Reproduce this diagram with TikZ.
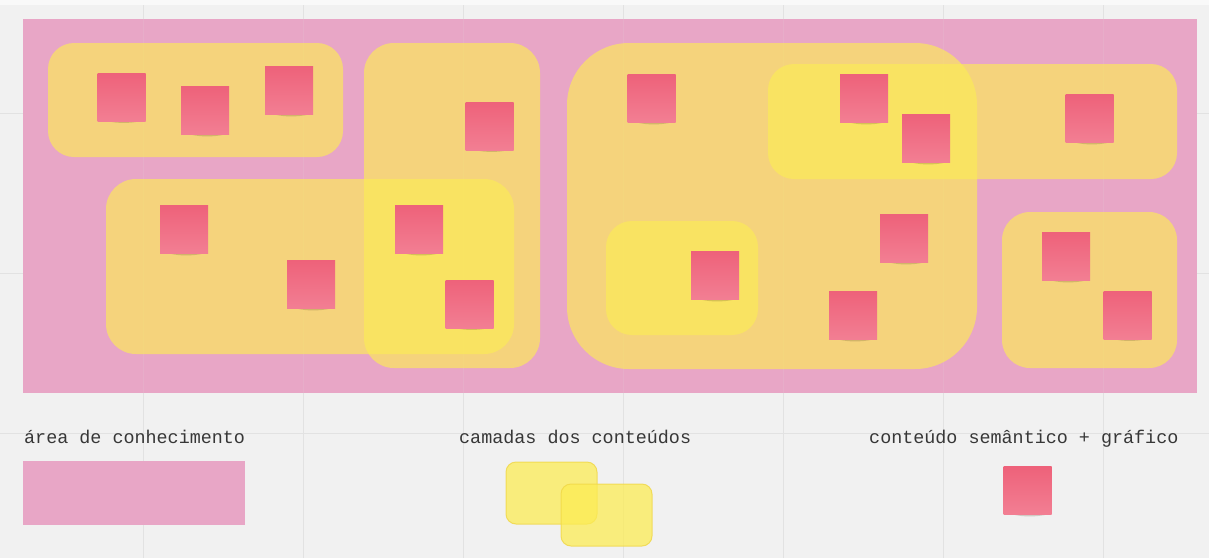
\documentclass[tikz,border=0pt]{standalone}
\usepackage{fontspec}
\newfontfamily\labelfont{Liberation Mono}
\definecolor{bggray}{RGB}{241,241,241}
\definecolor{gridgray}{RGB}{226,226,226}
\definecolor{areapink}{RGB}{232,166,198}
\definecolor{layeryellow}{RGB}{252,236,85}
\definecolor{layeredge}{RGB}{240,215,70}
\definecolor{notered}{RGB}{240,104,128}
\definecolor{notetop}{RGB}{238,98,122}
\definecolor{textgray}{RGB}{55,55,55}
\definecolor{shadowcol}{RGB}{90,70,40}
\tikzset{
  areabox/.style={fill=areapink, draw=none},
  layer/.style={fill=layeryellow, fill opacity=0.65, draw=none},
  legendlayer/.style={fill=layeryellow, fill opacity=0.75, draw=layeredge, draw opacity=0.8, line width=1pt, rounded corners=10pt},
  sticky/.style={rectangle, minimum width=48pt, minimum height=48pt, inner sep=0pt,
     top color=notetop, bottom color=notered!85!white, draw=none},
  shade/.style={fill=shadowcol, fill opacity=0.22, draw=none},
  legendtext/.style={font=\labelfont\fontsize{18.4}{20}\selectfont, text=textgray, anchor=base west, inner sep=0pt}
}
\newcommand{\stickynote}[3]{%
  \fill[shade] (#2-21,#3+22) .. controls (#2-8,#3+27) and (#2+8,#3+27) .. (#2+22,#3+23.5) -- (#2+22,#3+22) -- cycle;
  \node[sticky] (#1) at (#2,#3) {};
}
\begin{document}
\begin{tikzpicture}[x=1pt,y=-1pt]
\useasboundingbox (0,0) rectangle (1209,558);
\fill[bggray] (0,0) rectangle (1209,558);
\fill[white!60!bggray] (0,0) rectangle (1209,5);
% grid
\foreach \gx in {143,303,463,623,783,943,1103} {\draw[gridgray, line width=0.8pt] (\gx,5) -- (\gx,558);}
\foreach \gy in {113,273,433} {\draw[gridgray, line width=0.8pt] (0,\gy) -- (1209,\gy);}
% knowledge area
\fill[areabox] (23,19) rectangle (1197,393);
\foreach \gx in {143,303,463,623,783,943,1103} {\draw[gridgray, opacity=0.12, line width=0.8pt] (\gx,19) -- (\gx,393);}
% content layers
\fill[layer, rounded corners=26pt] (48,43) rectangle (343,157);
\fill[layer, rounded corners=30pt] (364,43) rectangle (540,368);
\fill[layer, rounded corners=30pt] (106,179) rectangle (514,354);
\fill[layer, rounded corners=62pt] (567,43) rectangle (977,369);
\fill[layer, rounded corners=26pt] (768,64) rectangle (1177,179);
\fill[layer, rounded corners=26pt] (606,221) rectangle (758,335);
\fill[layer, rounded corners=28pt] (1002,212) rectangle (1177,368);
% sticky notes
\stickynote{n1}{121.5}{97}
\stickynote{n2}{205}{110.5}
\stickynote{n3}{289}{90.5}
\stickynote{n4}{489.5}{126}
\stickynote{n5}{184}{229.5}
\stickynote{n6}{311}{284.5}
\stickynote{n7}{419}{229.5}
\stickynote{n8}{469.5}{304}
\stickynote{n9}{651.5}{98.5}
\stickynote{n10}{864}{98.5}
\stickynote{n11}{926}{138.5}
\stickynote{n12}{1089.5}{118.5}
\stickynote{n13}{904}{238.5}
\stickynote{n14}{715}{275.5}
\stickynote{n15}{853}{315.5}
\stickynote{n16}{1066}{256.5}
\stickynote{n17}{1127.5}{315}
% legend
\node[legendtext] (t1) at (24,443) {área de conhecimento};
\fill[areabox] (23,461) rectangle (245,525);
\node[legendtext] (t2) at (459,443) {camadas dos conteúdos};
\filldraw[legendlayer] (506,462) rectangle (597,524);
\filldraw[legendlayer] (561,484) rectangle (652,546);
\node[legendtext] (t3) at (869,443) {conteúdo semântico + gráfico};
\stickynote{n18}{1027.5}{490.5}
\end{tikzpicture}
\end{document}
